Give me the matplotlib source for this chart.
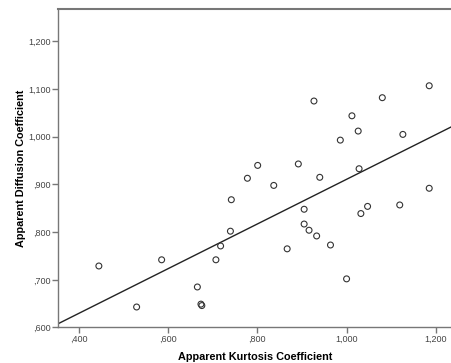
import numpy as np
import matplotlib
matplotlib.use("Agg")
import matplotlib.pyplot as plt

# kurtosis (x) vs diffusion (y)
kurtosis = [0.4455, 0.530, 0.586, 0.666, 0.674, 0.676, 0.7075, 0.718, 0.740, 0.742,
            0.778, 0.801, 0.837, 0.867, 0.892, 0.905, 0.905, 0.916, 0.927, 0.933,
            0.940, 0.964, 0.986, 1.000, 1.012, 1.026, 1.028, 1.032, 1.047, 1.080,
            1.119, 1.126, 1.185, 1.185]
diffusion = [0.729, 0.643, 0.742, 0.685, 0.649, 0.646, 0.742, 0.771, 0.802, 0.868,
             0.913, 0.940, 0.898, 0.765, 0.943, 0.848, 0.817, 0.804, 1.075, 0.792,
             0.915, 0.773, 0.993, 0.702, 1.044, 1.012, 0.933, 0.839, 0.854, 1.082,
             0.857, 1.005, 0.892, 1.107]

xticks = [0.4, 0.6, 0.8, 1.0, 1.2]
yticks = [0.6, 0.7, 0.8, 0.9, 1.0, 1.1, 1.2]


def spss_fmt(v):
    s = "%.3f" % v
    s = s.replace(".", ",")
    if s.startswith("0"):
        s = s[1:]
    return s


def main():
    plt.rcParams['font.family'] = ['Liberation Sans', 'DejaVu Sans']
    fig = plt.figure(figsize=(4.52, 3.63), dpi=100)
    ax = fig.add_axes([0.1283, 0.0978, 0.8717, 0.8774])

    ax.scatter(kurtosis, diffusion, s=18, facecolors='none', edgecolors='#333333', linewidths=0.8, zorder=3)

    xmin, xmax = 0.354, 1.236
    b, a = np.polyfit(kurtosis, diffusion, 1)
    xs = np.array([xmin, xmax])
    ax.plot(xs, a + b * xs, color='#222222', lw=1.0, zorder=2)

    ax.set_xlim(xmin, xmax)
    ax.set_ylim(0.6, 1.268)
    ax.set_xticks(xticks)
    ax.set_xticklabels([spss_fmt(v) for v in xticks])
    ax.set_yticks(yticks)
    ax.set_yticklabels([spss_fmt(v) for v in yticks])

    for side in ['left', 'bottom', 'top']:
        ax.spines[side].set_color('#777777')
        ax.spines[side].set_linewidth(1.0)
    ax.spines['top'].set_linewidth(1.5)
    ax.spines['right'].set_visible(False)
    ax.tick_params(direction='out', length=4, width=1.0, color='#777777',
                   labelsize=6.5, labelcolor='#444444', pad=1)

    ax.set_xlabel("Apparent Kurtosis Coefficient", fontsize=7.8, fontweight='bold', labelpad=6)
    ax.set_ylabel("Apparent Diffusion Coefficient", fontsize=7.8, fontweight='bold', labelpad=2)

    fig.savefig("out.png", dpi=100)


main()
